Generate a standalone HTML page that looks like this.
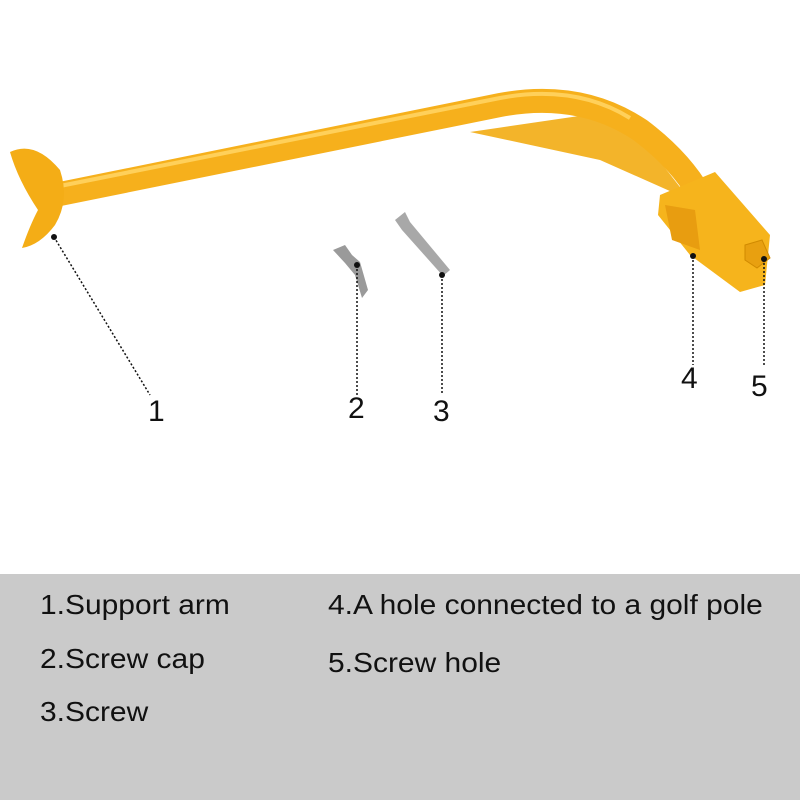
<!DOCTYPE html>
<html><head><style>
body{margin:0;width:800px;height:800px;background:#fff;position:relative;overflow:hidden;font-family:"Liberation Sans",sans-serif}
.p{position:absolute;left:0;top:574px;width:800px;height:226px;background:#cacaca}
.t{position:absolute;font-size:28px;line-height:32px;color:#111;transform:scaleX(1.07);transform-origin:left center;white-space:nowrap}
.n{position:absolute;font-size:30px;color:#111}
</style></head><body>
<svg width="800" height="800" style="position:absolute;left:0;top:0">
<path d="M470,132 L600,160 L690,200 L620,110 Z" fill="#f3b42a"/>
<path d="M55,195 L500,105 Q580,90 640,130 Q680,160 700,195" stroke="#f6b01c" stroke-width="24" fill="none" stroke-linecap="round"/>
<path d="M60,186 L500,98 Q575,84 630,118" stroke="#ffd05a" stroke-width="4" fill="none"/>
<path d="M10,152 Q35,140 60,170 Q70,200 55,225 Q40,245 22,248 Q30,225 38,210 Q18,180 10,152 Z" fill="#f4ad16"/>
<path d="M660,195 L715,172 L770,235 L765,285 L740,292 L690,255 L658,215 Z" fill="#f6b41c"/>
<path d="M665,205 L695,210 L700,250 L672,240 Z" fill="#e89d10"/>
<path d="M745,245 L762,240 L770,258 L757,268 L745,260 Z" fill="#e8a010" stroke="#d08a00"/>
<path d="M333,250 L345,245 L352,255 L360,262 L368,290 L362,298 L355,275 L345,263 Z" fill="#9a9a9a"/>
<path d="M395,220 L405,212 L410,222 L450,270 L443,276 L402,230 Z" fill="#a8a8a8"/>
<g stroke="#111" stroke-width="1.5" stroke-dasharray="2,2" fill="none">
<line x1="54" y1="237" x2="150" y2="395"/>
<line x1="357" y1="265" x2="357" y2="395"/>
<line x1="442" y1="275" x2="442" y2="395"/>
<line x1="693" y1="256" x2="693" y2="365"/>
<line x1="764" y1="259" x2="764" y2="365"/>
</g>
<g fill="#111"><circle cx="54" cy="237" r="3"/><circle cx="357" cy="265" r="3"/><circle cx="442" cy="275" r="3"/><circle cx="693" cy="256" r="3"/><circle cx="764" cy="259" r="3"/></g>
</svg>
<div class="n" style="left:148px;top:395px">1</div>
<div class="n" style="left:348px;top:392px">2</div>
<div class="n" style="left:433px;top:395px">3</div>
<div class="n" style="left:681px;top:362px">4</div>
<div class="n" style="left:751px;top:370px">5</div>
<div class="p"></div>
<div class="t" style="left:40px;top:589px">1.Support arm</div>
<div class="t" style="left:40px;top:643px">2.Screw cap</div>
<div class="t" style="left:40px;top:696px">3.Screw</div>
<div class="t" style="left:328px;top:589px">4.A hole connected to a golf pole</div>
<div class="t" style="left:328px;top:647px">5.Screw hole</div>
</body></html>
